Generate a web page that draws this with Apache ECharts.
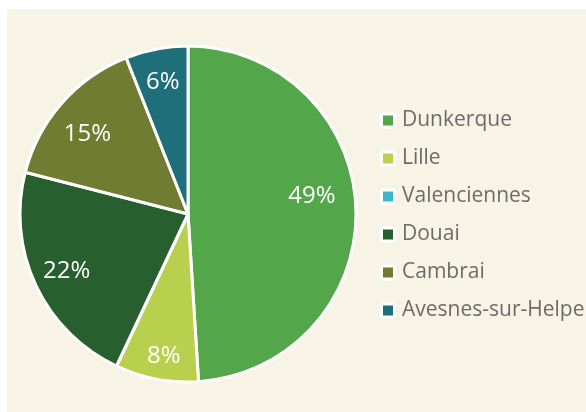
<!DOCTYPE html>
<html>
<head>
<meta charset="utf-8">
<script src="https://cdn.jsdelivr.net/npm/echarts@6/dist/echarts.min.js"></script>
<style>
  html, body { margin: 0; padding: 0; background: #ffffff; }
  #chart { width: 586px; height: 412px; }
</style>
</head>
<body>
<div id="chart"></div>
<script>
// Répartition par arrondissement
const categories = ['Dunkerque', 'Lille', 'Valenciennes', 'Douai', 'Cambrai', 'Avesnes-sur-Helpe'];
const values = [49, 8, 0, 22, 15, 6];
const colors = ['#53a64a', '#b9d04e', '#3bb8c9', '#285f2f', '#6f7c31', '#1e6f7a'];

// décalage fin des étiquettes (placement « ajusté »)
const labelNudge = {
  'Dunkerque': [-10, -14],
  'Cambrai': [0, 9],
  'Lille': [1, 11]
};

const sliceData = categories.map((name, i) => ({
  name,
  value: values[i],
  itemStyle: { color: colors[i] }
}));

const labelData = categories.map((name, i) => ({
  name,
  value: values[i],
  label: { offset: labelNudge[name] || [0, 0] }
}));

const legendBase = {
  orient: 'vertical',
  top: 110,
  padding: 0,
  itemGap: 17,
  selectedMode: false,
  data: categories
};

const chart = echarts.init(document.getElementById('chart'), null, { renderer: 'canvas' });

chart.setOption({
  backgroundColor: '#ffffff',
  animation: false,
  graphic: [{
    type: 'rect',
    left: 7, top: 9, z: -10,
    shape: { width: 579, height: 403 },
    style: { fill: '#f7f4e5' }
  }],
  legend: [
    // fond blanc des pastilles
    Object.assign({}, legendBase, {
      left: 380,
      icon: 'roundRect',
      itemWidth: 16,
      itemHeight: 16,
      itemStyle: { color: '#ffffff', borderWidth: 0 },
      textStyle: { fontFamily: 'Open Sans', fontSize: 21, color: 'rgba(0,0,0,0)' }
    }),
    // pastilles de couleur et libellés
    Object.assign({}, legendBase, {
      left: 383,
      icon: 'rect',
      itemWidth: 10,
      itemHeight: 10,
      itemStyle: { borderWidth: 0 },
      textStyle: { fontFamily: 'Open Sans', fontSize: 21, color: '#6b6b6b', padding: [0, 0, 0, 4] }
    })
  ],
  series: [
    {
      type: 'pie',
      center: [188, 214],
      radius: [0, 168],
      startAngle: 90,
      clockwise: true,
      stillShowZeroSum: true,
      itemStyle: { borderColor: '#ffffff', borderWidth: 3 },
      label: { show: false },
      labelLine: { show: false },
      emphasis: { disabled: true },
      data: sliceData
    },
    {
      // anneau transparent portant les étiquettes de pourcentage
      type: 'pie',
      center: [188, 214],
      radius: [94, 168],
      startAngle: 90,
      clockwise: true,
      silent: true,
      itemStyle: { color: 'rgba(0,0,0,0)', borderWidth: 0 },
      label: {
        show: true,
        position: 'inside',
        fontFamily: 'Open Sans',
        fontSize: 24,
        color: '#ffffff',
        formatter: p => (p.value > 0 ? Math.round(p.percent) + '%' : '')
      },
      labelLine: { show: false },
      emphasis: { disabled: true },
      data: labelData
    }
  ]
});
</script>
</body>
</html>
